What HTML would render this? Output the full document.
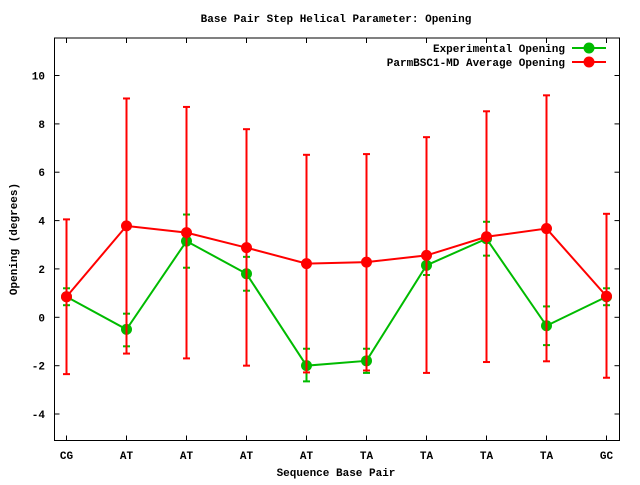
<!DOCTYPE html>
<html><head><meta charset="utf-8"><style>
body{margin:0;background:#fff}
svg text{font-family:"Liberation Mono","DejaVu Sans Mono",monospace;font-size:11px;font-weight:bold;fill:#000}
</style></head><body>
<svg id="s" width="640" height="480" xmlns="http://www.w3.org/2000/svg"></svg>
<script>
const s=document.getElementById('s');let h='';
const L=54.5,R=619.5,T=38,B=440.5;
const Y=v=>317.3-v*24.18, X=i=>66.5+60*i;
h+=`<text x="336" y="22" text-anchor="middle">Base Pair Step Helical Parameter: Opening</text>`;
h+=`<rect x="${L}" y="${T}" width="${R-L}" height="${B-T}" fill="none" stroke="#000" stroke-width="1"/>`;
for(let v=-4;v<=10;v+=2){const y=Y(v).toFixed(1);h+=`<line x1="${L}" x2="${L+5}" y1="${y}" y2="${y}" stroke="#000"/><line x1="${R}" x2="${R-5}" y1="${y}" y2="${y}" stroke="#000"/><text x="45" y="${+y+4}" text-anchor="end">${v}</text>`;}
const lab=["CG","AT","AT","AT","AT","TA","TA","TA","TA","GC"];
lab.forEach((l,i)=>{const x=X(i);h+=`<line x1="${x}" x2="${x}" y1="${B}" y2="${B-5}" stroke="#000"/><line x1="${x}" x2="${x}" y1="${T}" y2="${T+5}" stroke="#000"/><text x="${x}" y="459" text-anchor="middle">${l}</text>`;});
h+=`<text x="336" y="476" text-anchor="middle">Sequence Base Pair</text>`;
h+=`<text transform="translate(17,239) rotate(-90)" text-anchor="middle">Opening (degrees)</text>`;
const ex=[[0.85,0.5,1.2],[-0.5,-1.2,0.15],[3.15,2.05,4.25],[1.8,1.1,2.5],[-2.0,-2.65,-1.3],[-1.8,-2.3,-1.3],[2.15,1.75,2.55],[3.25,2.55,3.95],[-0.35,-1.15,0.45],[0.85,0.5,1.2]];
const md=[[0.85,-2.35,4.05],[3.78,-1.5,9.05],[3.5,-1.7,8.7],[2.88,-2.0,7.78],[2.22,-2.28,6.72],[2.28,-2.2,6.75],[2.56,-2.3,7.45],[3.33,-1.85,8.52],[3.67,-1.82,9.18],[0.87,-2.5,4.28]];
function ser(d,c){let o='';d.forEach((p,i)=>{const x=X(i);o+=`<line x1="${x}" x2="${x}" y1="${Y(p[1])}" y2="${Y(p[2])}" stroke="${c}" stroke-width="2"/>`;[p[1],p[2]].forEach(v=>o+=`<line x1="${x-3.5}" x2="${x+3.5}" y1="${Y(v)}" y2="${Y(v)}" stroke="${c}" stroke-width="2"/>`);});
o+=`<polyline fill="none" stroke="${c}" stroke-width="2" points="${d.map((p,i)=>X(i)+','+Y(p[0])).join(' ')}"/>`;
d.forEach((p,i)=>o+=`<circle cx="${X(i)}" cy="${Y(p[0])}" r="5.5" fill="${c}"/>`);return o;}
h+=ser(ex,'#00bb00');h+=ser(md,'#ff0000');
h+=`<text x="565" y="52" text-anchor="end">Experimental Opening</text><line x1="572" x2="606" y1="48" y2="48" stroke="#00bb00" stroke-width="2"/><circle cx="589" cy="48" r="5.5" fill="#00bb00"/>`;
h+=`<text x="565" y="66" text-anchor="end">ParmBSC1-MD Average Opening</text><line x1="572" x2="606" y1="62" y2="62" stroke="#ff0000" stroke-width="2"/><circle cx="589" cy="62" r="5.5" fill="#ff0000"/>`;
s.innerHTML=h;
</script>
</body></html>
